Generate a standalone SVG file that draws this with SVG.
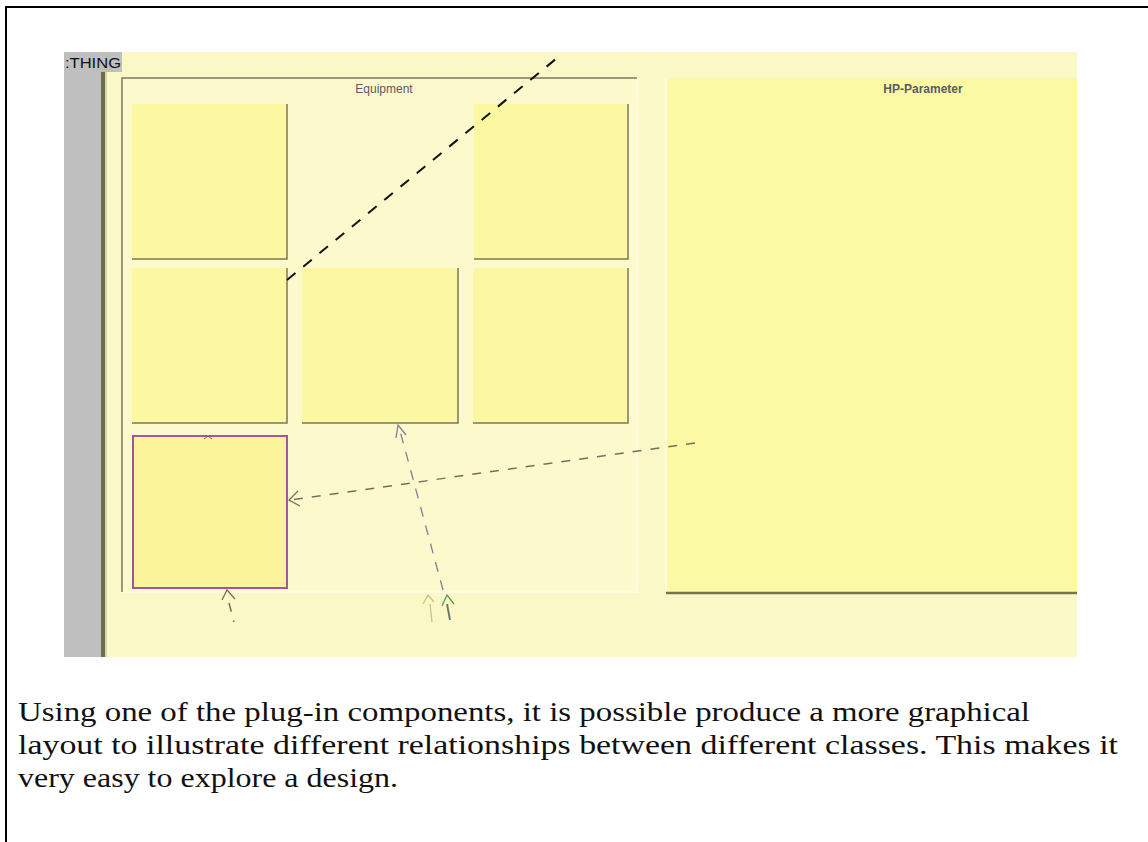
<svg xmlns="http://www.w3.org/2000/svg" width="1148" height="842" viewBox="0 0 1148 842">
  <style>
    .frame { fill: none; stroke: #000; stroke-width: 2; }
    .cls { fill: #fcf8a2; }
    .edge { stroke: #7a7a58; stroke-width: 1.5; fill: none; }
    .hi { stroke: #fffbe0; stroke-width: 2; fill: none; }
    .lbl { font-family: "Liberation Sans", Arial, sans-serif; font-size: 12px; fill: #5a5a68; text-anchor: middle; }
    .cap { font-family: "Liberation Serif", "Times New Roman", serif; font-size: 28px; fill: #111; }
    .dash-k { stroke: #111; stroke-width: 2; fill: none; stroke-dasharray: 11 10; }
    .dash-b { stroke: #806a5c; stroke-width: 1.5; fill: none; stroke-dasharray: 9 9; }
    .dash-p { stroke: #8a7a92; stroke-width: 1.3; fill: none; stroke-dasharray: 10 9; }
    .head { fill: none; stroke-width: 1.3; }
  </style>

  <!-- page frame -->
  <path class="frame" d="M6,842 V7 H1148"/>

  <!-- window background, grey side strip -->
  <rect x="64" y="52" width="1013" height="605" fill="#fbf8c8"/>
  <rect x="64" y="52" width="38" height="605" fill="#bfbfbf"/>
  <rect x="101" y="72" width="4" height="585" fill="#6e6e48"/>
  <rect x="105" y="72" width="2" height="585" fill="#d8d8b0"/>

  <g id="thing">
    <rect x="64" y="52" width="58" height="20" fill="#bfbfbf"/>
    <text x="65" y="68" font-family="Liberation Sans, Arial, sans-serif" font-size="15" fill="#111" textLength="56" lengthAdjust="spacingAndGlyphs">:THING</text>
  </g>

  <!-- Equipment container -->
  <g id="equipment">
    <rect x="122" y="78" width="515" height="514" fill="#fcf9cc"/>
    <path d="M122,592 H637 V78" class="hi"/>
    <path d="M122,592 V78 H637" class="edge"/>
    <text class="lbl" x="384" y="93">Equipment</text>
  </g>

  <g id="box1">
    <rect class="cls" x="132" y="104" width="155" height="155"/>
    <path class="edge" d="M132,259 H287 V104"/>
  </g>
  <g id="box3">
    <rect class="cls" x="474" y="104" width="154" height="155"/>
    <path class="edge" d="M474,259 H628 V104"/>
  </g>
  <g id="box4">
    <rect class="cls" x="132" y="268" width="155" height="155"/>
    <path class="edge" d="M132,423 H287 V268"/>
  </g>
  <g id="box5">
    <rect class="cls" x="302" y="268" width="156" height="155"/>
    <path class="edge" d="M302,423 H458 V268"/>
  </g>
  <g id="box6">
    <rect class="cls" x="473" y="268" width="155" height="155"/>
    <path class="edge" d="M473,423 H628 V268"/>
  </g>
  <g id="box7">
    <rect x="133" y="436" width="154" height="152" fill="#fcf49a" stroke="#a4559c" stroke-width="2"/>
    <path d="M204,439 L208,436 L212,439" fill="none" stroke="#a4559c" stroke-width="1"/>
  </g>

  <g id="hp-parameter">
    <rect x="666" y="78" width="411" height="514" fill="#fcf9a4"/>
    <path d="M666,592 V78" stroke="#fffbe0" stroke-width="2"/>
    <path d="M666,593 H1077" stroke="#77744c" stroke-width="2.5"/>
    <text class="lbl" x="923" y="93" font-weight="bold">HP-Parameter</text>
  </g>

  <!-- connectors -->
  <g id="connectors">
    <path class="dash-k" d="M287,280 L557,58"/>
    <path class="dash-b" d="M695,443 L290,500"/>
    <path class="head" stroke="#806a5c" d="M298,491 L289,500 L300,506"/>
    <path class="dash-p" d="M443,590 L399,427"/>
    <path class="head" stroke="#8a7a92" d="M396,438 L398,425 L406,435"/>
    <path class="head" stroke="#806a5c" d="M222,600 L227,590 L235,599"/>
    <path class="dash-b" d="M229,603 L234,622"/>
    <path class="head" stroke="#c8c080" d="M423,604 L428,595 L434,602"/>
    <path stroke="#c8c080" stroke-width="1.3" d="M430,604 L432,622"/>
    <path class="head" stroke="#5c9a5c" d="M442,606 L447,595 L454,604"/>
    <path stroke="#6a7a6a" stroke-width="2" d="M447,604 L450,620"/>
  </g>

  <!-- caption -->
  <g id="caption">
    <text class="cap" x="18" y="721" textLength="1012" lengthAdjust="spacingAndGlyphs">Using one of the plug-in components, it is possible produce a more graphical</text>
    <text class="cap" x="18" y="754" textLength="1100" lengthAdjust="spacingAndGlyphs">layout to illustrate different relationships between different classes. This makes it</text>
    <text class="cap" x="18" y="787" textLength="380" lengthAdjust="spacingAndGlyphs">very easy to explore a design.</text>
  </g>
</svg>
